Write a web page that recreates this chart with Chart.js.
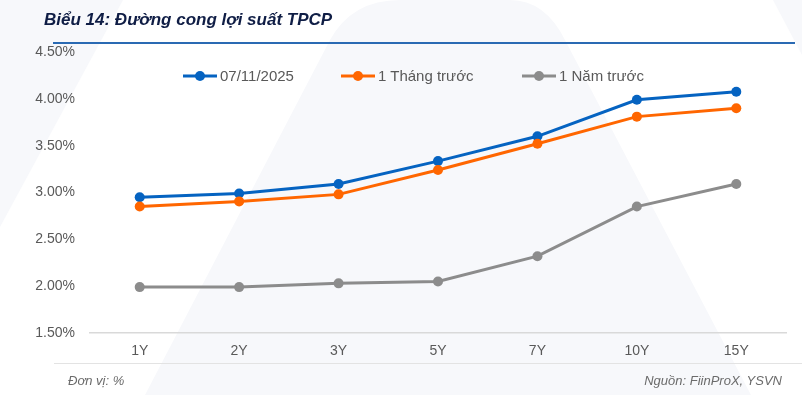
<!DOCTYPE html>
<html>
<head>
<meta charset="utf-8">
<script src="https://cdn.jsdelivr.net/npm/chart.js@4.4.1/dist/chart.umd.min.js"></script>
<style>
    html, body { margin: 0; padding: 0; background: #fff; }
    body { width: 802px; height: 395px; position: relative; overflow: hidden; font-family: 'Liberation Sans', Arial, sans-serif; }
    #bg { position: absolute; left: 0; top: 0; }
    #chart-wrap { position: absolute; left: 0; top: 0; width: 802px; height: 395px; }
    .title { position: absolute; left: 44px; top: 10px; font-size: 17px; font-weight: bold; font-style: italic; color: #0f1d45; }
    .rule-top { position: absolute; left: 53px; top: 42px; width: 742px; height: 2px; background: #2a6ab3; }
    .rule-bottom { position: absolute; left: 54px; top: 363px; width: 748px; height: 1px; background: #e3e3e3; }
    .note { position: absolute; top: 373px; font-size: 13px; font-style: italic; color: #6b6b6b; }
    .legend { position: absolute; top: 67px; left: 0; height: 18px; }
    .legend-item { position: absolute; top: 0; display: flex; align-items: center; font-size: 15px; color: #595959; white-space: nowrap; }
    .legend-item svg { margin-right: 3px; }
</style>
</head>
<body>
<svg id="bg" width="802" height="395">
    <polygon points="0,0 123,0 0,227" fill="#f7f8fb"/>
    <path d="M145,395 L330,40 Q352,0 400,0 L510,0 Q545,0 565,40 L751,395 Z" fill="#f7f8fb"/>
    <polygon points="773,0 802,0 802,55" fill="#f7f8fb"/>
</svg>
<div id="chart-wrap"><canvas id="yield-chart" width="802" height="395"></canvas></div>
<div class="title">Biểu 14: Đường cong lợi suất TPCP</div>
<div class="rule-top"></div>
<div class="legend" id="legend"></div>
<div class="rule-bottom"></div>
<div class="note" style="left:68px">Đơn vị: %</div>
<div class="note" style="right:20px">Nguồn: FiinProX, YSVN</div>

<script>
const TENORS = ['1Y', '2Y', '3Y', '5Y', '7Y', '10Y', '15Y'];
const CURRENT = [2.95, 2.99, 3.09, 3.335, 3.60, 3.99, 4.075];
const ONE_MONTH_AGO = [2.85, 2.905, 2.98, 3.24, 3.52, 3.81, 3.90];
const ONE_YEAR_AGO = [1.99, 1.99, 2.03, 2.05, 2.32, 2.85, 3.09];
const Y_TICKS = [1.5, 2.0, 2.5, 3.0, 3.5, 4.0, 4.5];

const SERIES = [
    { label: '07/11/2025', data: CURRENT, color: '#0563c1', x: 183 },
    { label: '1 Tháng trước', data: ONE_MONTH_AGO, color: '#ff6600', x: 341 },
    { label: '1 Năm trước', data: ONE_YEAR_AGO, color: '#8c8c8c', x: 522 }
];

// legend drawn as html so it can sit inside the plot like the original
const legendEl = document.getElementById('legend');
SERIES.forEach(s => {
    const item = document.createElement('div');
    item.className = 'legend-item';
    item.style.left = s.x + 'px';
    item.innerHTML = `
        <svg width="34" height="12"><line x1="0" y1="6" x2="34" y2="6" stroke="${s.color}" stroke-width="3"/>
        <circle cx="17" cy="6" r="5" fill="${s.color}"/></svg>
        <span>${s.label}</span>`;
    legendEl.appendChild(item);
});

const ctx = document.getElementById('yield-chart').getContext('2d');

new Chart(ctx, {
    type: 'line',
    data: {
        labels: TENORS,
        datasets: SERIES.slice().reverse().map(s => ({
            label: s.label,
            data: s.data,
            borderColor: s.color,
            backgroundColor: s.color,
            borderWidth: 3,
            pointRadius: 5,
            pointBorderWidth: 0,
            pointHoverRadius: 5,
            tension: 0
        }))
    },
    options: {
        responsive: false,
        animation: false,
        devicePixelRatio: 1,
        layout: {
            padding: { top: 52, right: 16, bottom: 32, left: 0 }
        },
        plugins: {
            legend: { display: false },
            tooltip: { enabled: false }
        },
        scales: {
            x: {
                offset: true,
                grid: { display: false, drawTicks: false, offset: true },
                border: { display: true, color: '#d9d9d9', width: 1.5 },
                ticks: {
                    padding: 10,
                    color: '#595959',
                    font: { family: "'Liberation Sans', Arial, sans-serif", size: 14 }
                },
                afterFit: function(scale) { scale.height = 30; }
            },
            y: {
                min: 1.5,
                max: 4.5,
                afterBuildTicks: function(scale) {
                    scale.ticks = Y_TICKS.map(v => ({ value: v }));
                },
                grid: { display: false, drawTicks: false },
                border: { display: false },
                ticks: {
                    padding: 15,
                    color: '#595959',
                    font: { family: "'Liberation Sans', Arial, sans-serif", size: 14 },
                    callback: function(value) { return value.toFixed(2) + '%'; }
                },
                afterFit: function(scale) { scale.width = 90; }
            }
        }
    }
});
</script>
</body>
</html>
